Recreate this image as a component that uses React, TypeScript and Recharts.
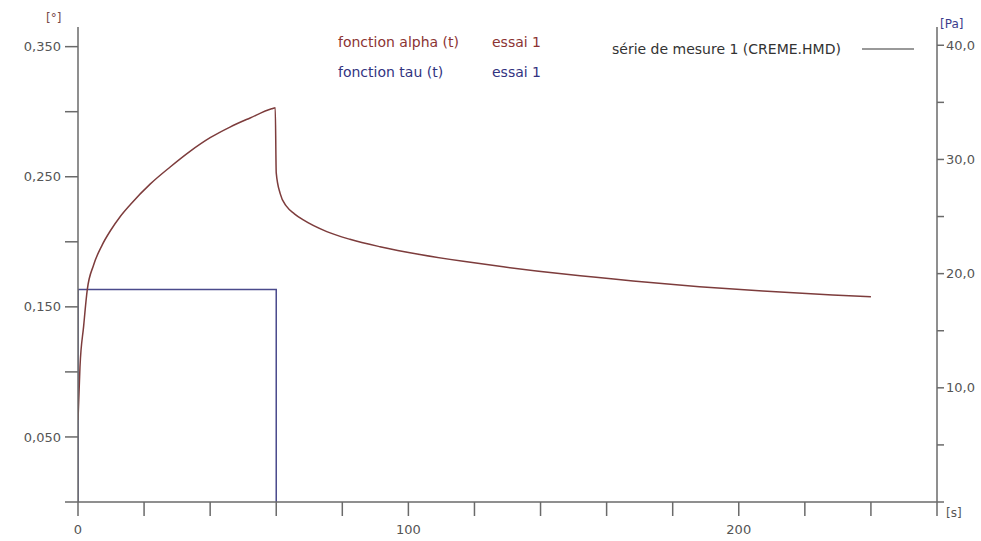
import React from "react";
import { LineChart, Line, XAxis, YAxis } from "recharts";

// temps [s] et angle alpha [°]
const TIME = [
  0, 0.6, 1.7, 2.8, 4.7, 7.3, 9.8, 12.8, 15.8, 21.9, 27.9, 33.9, 40, 46, 52.1,
  58.6, 59.7, 60.0, 61.2, 63.2, 65.5, 68.2, 75.3, 82.3, 91.4, 103.5, 116.6,
  128.7, 147.8, 168, 188.1, 207.3, 228.4, 240,
];
const ALPHA = [
  0.063, 0.104, 0.135, 0.163, 0.182, 0.1975, 0.2085, 0.2195, 0.2285, 0.2445,
  0.2575, 0.2695, 0.28, 0.2882, 0.2952, 0.3022, 0.303, 0.253, 0.237, 0.227,
  0.2215, 0.2168, 0.2078, 0.2019, 0.1962, 0.1902, 0.185, 0.1808, 0.175,
  0.1699, 0.1655, 0.1622, 0.1591, 0.1578,
];

// contrainte tau [Pa]
const TAU_TIME = [0, 0, 60, 60];
const TAU = [0, 18.6, 18.6, 0];

const X_TICKS = [0, 20, 40, 60, 80, 100, 120, 140, 160, 180, 200, 220, 240, 260];
const X_LABELS = [0, 100, 200];
const ALPHA_TICKS = [0, 0.05, 0.1, 0.15, 0.2, 0.25, 0.3, 0.35];
const TAU_TICKS = [0, 5, 10, 15, 20, 25, 30, 35, 40];

const alphaData = TIME.map((t, i) => ({ t, alpha: ALPHA[i] }));
const tauData = TAU_TIME.map((t, i) => ({ t, tau: TAU[i] }));

const AXIS = "#6a6a6a";
const FONT = "'DejaVu Sans', sans-serif";
const tickStyle = { fill: "#555", fontSize: 13, fontFamily: FONT };

const fmtAlpha = (v: number) =>
  Math.round(v * 100) % 10 === 5 ? v.toFixed(3).replace(".", ",") : "";
const fmtTau = (v: number) =>
  v > 0 && v % 10 === 0 ? v.toFixed(1).replace(".", ",") : "";
const fmtX = (v: number) => (X_LABELS.includes(v) ? String(v) : "");

const txt = (left: number, top: number, color: string, size = 13): React.CSSProperties => ({
  position: "absolute",
  left,
  top,
  color,
  fontSize: size,
  fontFamily: FONT,
  lineHeight: 1,
  whiteSpace: "nowrap",
});

export default function App() {
  return (
    <div style={{ position: "absolute", left: 0, top: 0, width: 981, height: 541, background: "#fff" }}>
      <LineChart width={981} height={541} margin={{ top: 27, right: 0, bottom: 0, left: 0 }}>
        <XAxis
          dataKey="t"
          type="number"
          domain={[0, 260]}
          ticks={X_TICKS}
          tickFormatter={fmtX}
          height={39}
          tickSize={14}
          tickMargin={9}
          axisLine={{ stroke: AXIS, strokeWidth: 1.5 }}
          tickLine={{ stroke: AXIS, strokeWidth: 1.5 }}
          tick={tickStyle}
          allowDataOverflow
        />
        <YAxis
          yAxisId="alpha"
          width={78}
          domain={[0, 0.3651]}
          ticks={ALPHA_TICKS}
          tickFormatter={fmtAlpha}
          tickSize={13}
          tickMargin={4}
          axisLine={{ stroke: AXIS, strokeWidth: 1.5 }}
          tickLine={{ stroke: AXIS, strokeWidth: 1.5 }}
          tick={tickStyle}
          allowDataOverflow
        />
        <YAxis
          yAxisId="tau"
          orientation="right"
          width={44}
          domain={[0, 41.6]}
          ticks={TAU_TICKS}
          tickFormatter={fmtTau}
          tickSize={7}
          tickMargin={2}
          axisLine={{ stroke: AXIS, strokeWidth: 1.5 }}
          tickLine={{ stroke: AXIS, strokeWidth: 1.5 }}
          tick={tickStyle}
          allowDataOverflow
        />
        <Line
          yAxisId="tau"
          data={tauData}
          dataKey="tau"
          type="linear"
          stroke="#4a4a8c"
          strokeWidth={1.5}
          dot={false}
          isAnimationActive={false}
        />
        <Line
          yAxisId="alpha"
          data={alphaData}
          dataKey="alpha"
          type="monotone"
          stroke="#7d3c3c"
          strokeWidth={1.5}
          dot={false}
          isAnimationActive={false}
        />
      </LineChart>

      <div style={txt(46, 12, "#7a4a4a", 12)}>[°]</div>
      <div style={txt(940, 18, "#3c3c8c", 12)}>[Pa]</div>
      <div style={txt(946, 507, "#555", 12)}>[s]</div>

      <div style={txt(338, 35, "#8b3333", 14)}>fonction alpha (t)</div>
      <div style={txt(492, 35, "#8b3333", 14)}>essai 1</div>
      <div style={txt(338, 65, "#33337f", 14)}>fonction tau (t)</div>
      <div style={txt(492, 65, "#33337f", 14)}>essai 1</div>
      <div style={txt(612, 42, "#333", 14)}>série de mesure 1 (CREME.HMD)</div>
      <div style={{ position: "absolute", left: 862, top: 48, width: 52, height: 2, background: "#999" }} />
    </div>
  );
}
